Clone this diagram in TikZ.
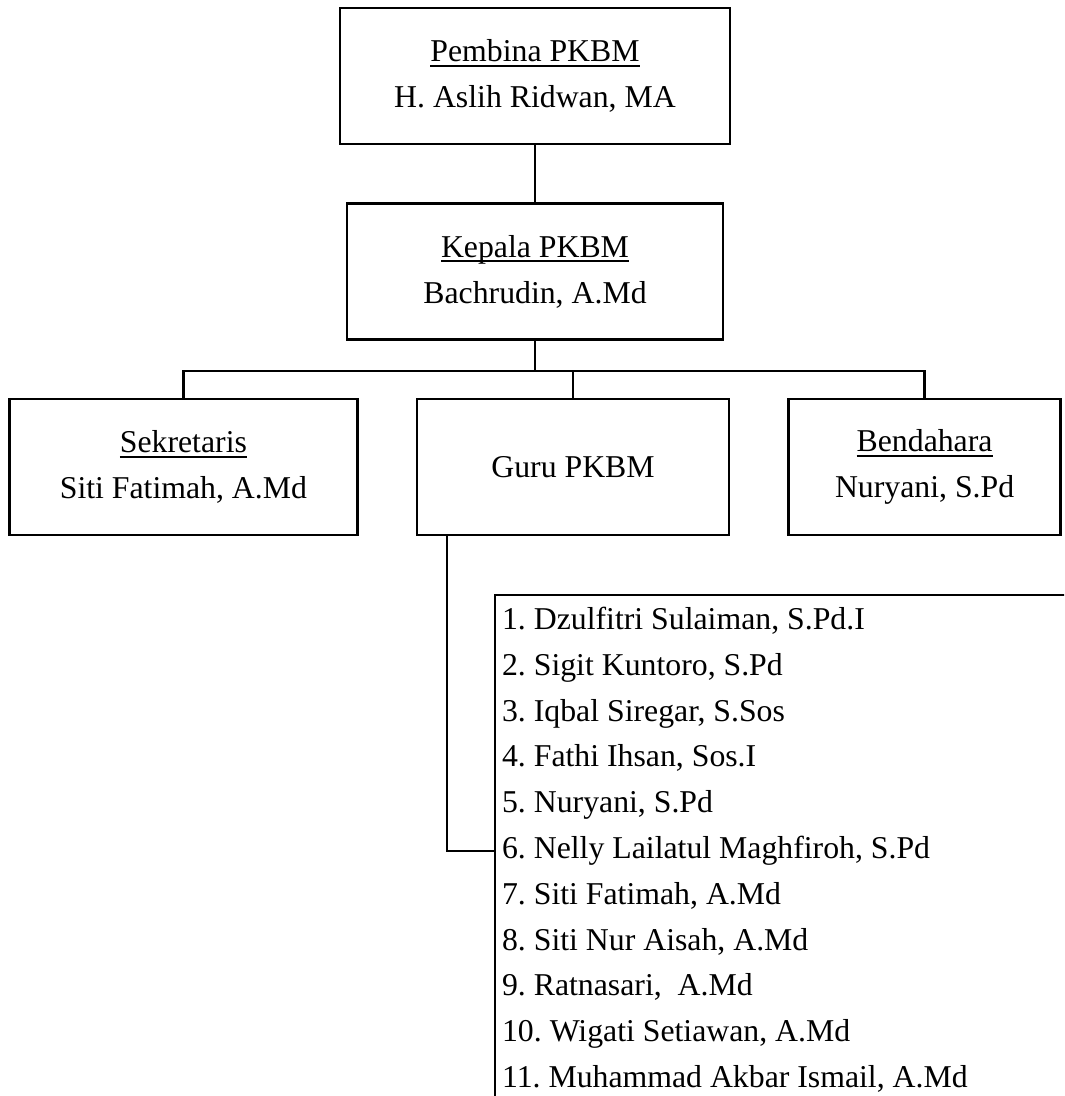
\documentclass[tikz,border=0pt]{standalone}
\usepackage{fontspec}
\setmainfont{Liberation Serif}
\usetikzlibrary{positioning}
\newcommand{\garisbawah}[1]{\leavevmode\setbox0\hbox{#1}\rlap{\rule[-3.6pt]{\wd0}{1.3pt}}\box0}
\frenchspacing

\begin{document}
\begin{tikzpicture}[
  node distance=1.43cm,
  kotak/.style={draw, line width=1.7pt, minimum height=3.4cm, align=center, font=\fontsize{22.6}{32.6}\selectfont},
  anggota/.style={anchor=base west, inner sep=0pt, font=\fontsize{22.6}{32.6}\selectfont},
  garis/.style={line width=1.7pt}
]

\path [use as bounding box, clip] (0,0) rectangle (26.6,27.4);

\node [kotak, minimum width=9.75cm                              ] (pembina)    at (13.375,25.5) {\garisbawah{Pembina PKBM}\\H. Aslih Ridwan, MA};
\node [kotak, minimum width=9.4cm, below=of pembina             ] (kepala)     {\garisbawah{Kepala PKBM}\\Bachrudin, A.Md};
\node [kotak, minimum width=7.8cm, below=of kepala, xshift=0.95cm] (guru)       {Guru PKBM};
\node [kotak, minimum width=8.7cm, left=of guru                 ] (sekretaris) {\garisbawah{Sekretaris}\\Siti Fatimah, A.Md};
\node [kotak, minimum width=6.8cm, right=of guru                ] (bendahara)  {\garisbawah{Bendahara}\\Nuryani, S.Pd};

\node [draw, line width=1.7pt, minimum width=15cm, minimum height=13.5cm,
       below=of guru.south west, anchor=north west, xshift=1.95cm] (daftar) {};

\foreach \nama [count=\i] in {{Dzulfitri Sulaiman, S.Pd.I}, {Sigit Kuntoro, S.Pd}, {Iqbal Siregar, S.Sos},
    {Fathi Ihsan, Sos.I}, {Nuryani, S.Pd}, {Nelly Lailatul Maghfiroh, S.Pd}, {Siti Fatimah, A.Md},
    {Siti Nur Aisah, A.Md}, {Ratnasari,~ A.Md}, {Wigati Setiawan, A.Md}, {Muhammad Akbar Ismail, A.Md}}
  \node [anggota] (n\i) at ([xshift=0.2cm, yshift={-0.9cm-(\i-1)*1.145cm}]daftar.north west) {\i. \nama};

\draw [garis] (pembina) -- (kepala);
\draw [garis] (kepala.south) -- ++(0,-0.75) coordinate (cabang);
\draw [garis] (sekretaris.north) |- (cabang) -| (bendahara.north);
\draw [garis] (guru.north) -- (guru.north |- cabang);
\draw [garis] ([xshift=0.775cm]guru.south west) |- (n6 -| daftar.west);

\end{tikzpicture}
\end{document}
